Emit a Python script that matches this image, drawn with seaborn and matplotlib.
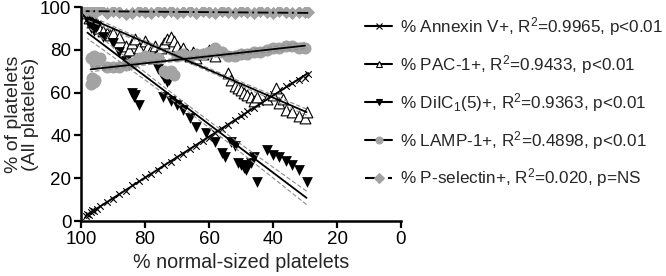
import numpy as np
import pandas as pd
import matplotlib
matplotlib.use('Agg')
import matplotlib.pyplot as plt
import seaborn as sns
from matplotlib.lines import Line2D

# values
annexin_x = [98.5, 98, 97.5, 97, 96.5, 96, 95, 94, 92, 90, 88, 86, 84, 82, 80, 78, 76, 74, 72, 70, 68,
             66, 64, 62, 60, 58, 56, 54, 52, 50, 49, 48, 46, 44, 42, 40, 38, 36, 34, 32, 30, 29]
annexin_y = [2.5, 3.5, 3, 4, 5, 4.5, 5.5, 7, 9, 10.5, 12.5, 14, 17, 18.5, 20.5, 22, 24, 26, 27.5, 30, 31.5,
             33.5, 35, 37.5, 39, 41, 43, 45, 47, 49, 50, 51.5, 53, 55.5, 57, 59.5, 61, 63, 64.5, 66, 67, 68.5]

pac_x = [98, 97.5, 97, 96.5, 96, 95, 94.5, 93, 92, 91, 90, 88, 86, 85, 84, 83, 82, 80, 79, 78, 77, 76,
         75, 74, 73, 72, 71, 70, 69, 68, 67, 66, 65, 64, 62, 60, 58, 54, 53, 52, 51, 50, 49, 48, 47, 46,
         45, 42, 40, 39, 38, 37, 36, 34, 32, 30, 29.5]
pac_y = [97, 95, 96, 93, 94, 92, 90, 89, 88, 87, 88, 86, 82, 80, 83, 85, 81, 84, 82, 80, 82, 79,
         81, 83, 85, 86, 84, 82, 79, 81, 78, 77, 79, 76, 78, 80, 77, 69, 66, 63, 62, 61, 60, 59, 58, 56,
         58, 57, 59, 62, 55, 57, 52, 51, 49, 48, 51]

diic_x = [98, 97.5, 97, 96.5, 96, 95, 93, 90, 88, 86, 85, 84, 83.5, 83, 82, 80, 78, 76, 75, 74, 73, 72.5,
          74.5, 72, 70, 68, 66, 64, 61, 58, 56, 55, 53, 52, 51, 50, 49, 48.5, 48, 47, 46, 45, 42, 40, 38,
          36, 34, 32, 29.5]
diic_y = [95, 93, 90, 92, 89, 91, 86, 83, 79, 75, 73, 60, 58, 59, 54, 76, 76, 71, 69, 67, 65, 66,
          58, 56, 54, 52, 48, 44, 41, 37, 32, 30, 37, 35, 27, 26, 25, 24, 26, 27, 30, 18, 33, 31, 30,
          28, 26, 24, 18]

lamp_x = [97, 96.5, 96, 95.5, 97, 96, 95.5, 95, 94, 92, 90, 88, 86, 84, 82, 80, 78, 76, 74, 73, 72, 71,
          70, 68, 66, 64, 62, 60, 58, 56, 54, 52, 50, 48, 46, 44, 42, 40, 38, 36, 34, 32, 30]
lamp_y = [64, 67, 65, 66, 76, 77, 74, 75, 76, 72, 72, 72, 73, 74, 76, 77, 76, 76, 70, 69, 70, 68,
          77, 78, 77, 78, 78, 79, 81, 79, 77, 77, 78, 78, 79, 79, 80, 81, 81, 82, 82, 81, 81]

psel_x = [98.5, 98, 97.5, 97, 96.5, 96, 95, 94, 92, 90, 88, 86, 84, 82, 80, 78, 76, 74, 72, 70, 68,
          66, 64, 62, 60, 58, 56, 54, 52, 50, 48, 46, 44, 42, 40, 38, 36, 34, 32, 30, 29]
psel_y = [99, 98, 99.5, 98.5, 99, 97.5, 98, 99, 97, 98, 97.5, 96.5, 97, 98, 97.5, 97, 98, 97.5, 98, 97, 97.5,
          98, 97, 98, 97.5, 97, 98, 97.5, 97, 98, 97.5, 97, 98, 97.5, 97, 98, 97.5, 97, 97.5, 97.5, 97.5]

labels = [r'% Annexin V+, R$^2$=0.9965, p<0.01',
          r'% PAC-1+, R$^2$=0.9433, p<0.01',
          r'% DiIC$_1$(5)+, R$^2$=0.9363, p<0.01',
          r'% LAMP-1+, R$^2$=0.4898, p<0.01',
          r'% P-selectin+, R$^2$=0.020, p=NS']

sns.set_style('ticks')
plt.rcParams['font.family'] = ['Liberation Sans', 'DejaVu Sans']
plt.rcParams['mathtext.fontset'] = 'custom'
plt.rcParams['mathtext.rm'] = 'Liberation Sans'
plt.rcParams['mathtext.it'] = 'Liberation Sans:italic'

grey = '#a3a3a3'
# (x, y, marker, scatter kwargs, line style, legend face, legend edge)
series = [
    (annexin_x, annexin_y, 'x', dict(s=22, color='black', linewidths=0.8), '-', 'black', 'black'),
    (pac_x, pac_y, '^', dict(s=60, facecolors='white', edgecolors='black', linewidths=0.8), '-', 'white', 'black'),
    (diic_x, diic_y, 'v', dict(s=60, color='black', linewidths=0), '-', 'black', 'black'),
    (lamp_x, lamp_y, 'o', dict(s=75, color=grey, linewidths=0), '-', grey, grey),
    (psel_x, psel_y, 'D', dict(s=45, color=grey, linewidths=0), (0, (6, 2, 1, 2)), grey, grey),
]
order = [3, 4, 1, 2, 0]  # grey series underneath

fig = plt.figure(figsize=(6.66, 2.76), dpi=100)
ax = fig.add_axes([81 / 666, 1 - 221 / 276, 320 / 666, 214 / 276])

for i in order:
    xs, ys, mk, skw, ls, fc, ec = series[i]
    df = pd.DataFrame({'x': xs, 'y': ys})
    sns.regplot(data=df, x='x', y='y', ax=ax, ci=None, marker=mk,
                scatter_kws=dict(skw, alpha=1, zorder=2 + i * 0.1),
                line_kws=dict(color='black', lw=1.3, ls=ls, zorder=5))
    # 95% confidence band drawn as dashed lines
    x = np.asarray(xs, float)
    y = np.asarray(ys, float)
    b, a = np.polyfit(x, y, 1)
    n = len(x)
    resid = y - (a + b * x)
    s = np.sqrt((resid ** 2).sum() / (n - 2))
    xg = np.linspace(x.min(), x.max(), 50)
    se = s * np.sqrt(1 / n + (xg - x.mean()) ** 2 / ((x - x.mean()) ** 2).sum())
    for sign in (-1, 1):
        ax.plot(xg, a + b * xg + sign * 1.4 * se, color='#8c8c8c', lw=0.8, ls=(0, (4, 2)), zorder=4)

ax.set_xlim(100, 0)
ax.set_ylim(0, 100)
ax.set_xticks([100, 80, 60, 40, 20, 0])
ax.set_yticks([0, 20, 40, 60, 80, 100])
ax.set_xlabel('% normal-sized platelets', fontsize=14.2, labelpad=4)
ax.set_ylabel('% of platelets\n(All platelets)', fontsize=14, labelpad=1, linespacing=1.0)
ax.tick_params(labelsize=13.5, width=1.6, length=5, colors='black', pad=2)
for sp in ['left', 'bottom']:
    ax.spines[sp].set_linewidth(1.8)
    ax.spines[sp].set_color('black')
sns.despine(ax=ax)

handles = []
for xs, ys, mk, skw, ls, fc, ec in series:
    handles.append(Line2D([], [], color='black', lw=1.5, ls=ls, marker=mk,
                          markersize=5, markerfacecolor=fc,
                          markeredgecolor=ec, markeredgewidth=0.8))
fig.legend(handles, labels, loc='upper left', bbox_to_anchor=(358 / 666, 1 - 8 / 276), frameon=False,
           fontsize=12.3, handlelength=1.6, handletextpad=0.45, labelspacing=0.88, borderaxespad=0)

fig.savefig('out.png', dpi=100)
